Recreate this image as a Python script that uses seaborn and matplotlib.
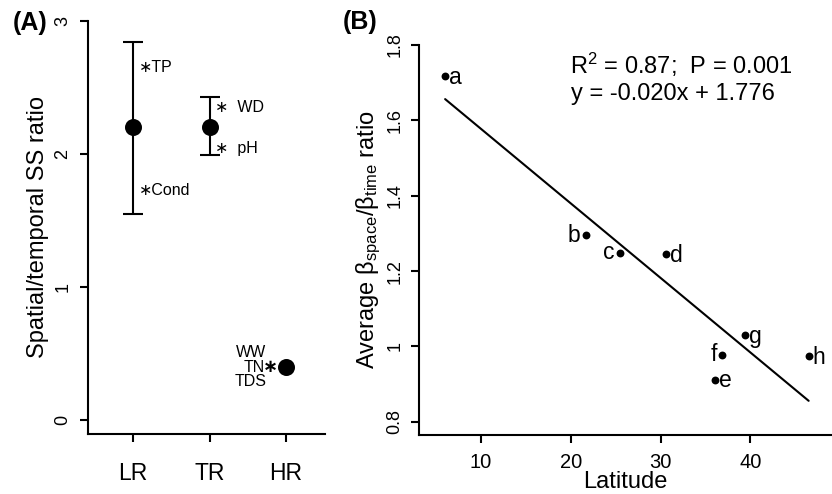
import numpy as np
import pandas as pd
import matplotlib
matplotlib.use("Agg")
import matplotlib.pyplot as plt
import seaborn as sns

# ---- Panel A data ----
regions = ["LR", "TR", "HR"]
ratio_mean = [2.20, 2.20, 0.40]
ratio_low = [1.55, 1.99, np.nan]
ratio_high = [2.84, 2.43, np.nan]
a_yticks = [0, 1, 2, 3]

# ---- Panel B data ----
site_labels = ["a", "b", "c", "d", "e", "f", "g", "h"]
latitude = [6.0, 21.7, 25.5, 30.6, 36.1, 36.9, 39.4, 46.5]
beta_ratio = [1.718, 1.295, 1.249, 1.245, 0.912, 0.978, 1.030, 0.975]
label_side = ["right", "left", "left", "right", "right", "left", "right", "right"]
b_xticks = [10, 20, 30, 40]
b_yticks = [0.8, 1.0, 1.2, 1.4, 1.6, 1.8]
b_yticklabels = ["0.8", "1", "1.2", "1.4", "1.6", "1.8"]

sns.set_theme(style="ticks")
plt.rcParams["font.family"] = ["Liberation Sans", "DejaVu Sans"]
plt.rcParams["mathtext.fontset"] = "custom"
plt.rcParams["mathtext.rm"] = "Liberation Sans"
plt.rcParams["mathtext.it"] = "Liberation Sans:italic"
plt.rcParams["mathtext.bf"] = "Liberation Sans:bold"
plt.rcParams["text.color"] = "black"
plt.rcParams["axes.labelcolor"] = "black"

fig = plt.figure(figsize=(8.32, 4.94), dpi=100)
axA = fig.add_axes([88/832, 1-434/494, (325-88)/832, (434-21)/494])
axB = fig.add_axes([419/832, 1-435/494, (832-419)/832, (435-45)/494])

LW = 1.5
for ax in (axA, axB):
    for s in ("top", "right"):
        ax.spines[s].set_visible(False)
    for s in ("left", "bottom"):
        ax.spines[s].set_linewidth(LW)
        ax.spines[s].set_color("black")
    ax.tick_params(length=6, width=LW, color="black", labelcolor="black")

# ---- Panel A ----
dfA = pd.DataFrame({"region": regions, "mean": ratio_mean,
                    "low": ratio_low, "high": ratio_high})
dfA["pos"] = np.arange(len(regions))
eb = dfA.dropna()
axA.errorbar(eb["pos"], eb["mean"],
             yerr=[eb["mean"] - eb["low"], eb["high"] - eb["mean"]],
             fmt="none", ecolor="black", elinewidth=LW, capsize=7, capthick=LW)
sns.scatterplot(data=dfA, x="pos", y="mean", ax=axA, color="black",
                s=150, linewidth=0, zorder=3)
axA.set_xlim(-0.59, 2.51)
axA.set_ylim(-0.105, 3.0)
axA.set_xticks(dfA["pos"])
axA.set_xticklabels(regions, fontsize=16.5)
axA.set_yticks(a_yticks)
axA.set_yticklabels([str(v) for v in a_yticks], fontsize=13, rotation=90, va="center")
axA.tick_params(axis="x", pad=14)
axA.tick_params(axis="y", pad=6)
axA.set_xlabel("")
axA.set_ylabel("Spatial/temporal SS ratio", fontsize=17, labelpad=4)

fsA = 11.5
axA.text(0.08, 2.647, "∗TP", fontsize=fsA, ha="left", va="center")
axA.text(0.08, 1.729, "∗Cond", fontsize=fsA, ha="left", va="center")
axA.text(1.07, 2.353, "∗  WD", fontsize=fsA, ha="left", va="center")
axA.text(1.07, 2.038, "∗  pH", fontsize=fsA, ha="left", va="center")
axA.text(1.737, 0.511, "WW", fontsize=fsA, ha="right", va="center")
axA.text(1.724, 0.398, "TN", fontsize=fsA, ha="right", va="center")
axA.text(1.80, 0.398, "∗", fontsize=13, fontweight="bold", ha="center", va="center")
axA.text(1.75, 0.286, "TDS", fontsize=fsA, ha="right", va="center")

# ---- Panel B ----
dfB = pd.DataFrame({"site": site_labels, "lat": latitude, "ratio": beta_ratio,
                    "side": label_side})
sns.regplot(data=dfB, x="lat", y="ratio", ax=axB, ci=None, scatter=False,
            truncate=True, line_kws={"color": "black", "linewidth": LW})
sns.scatterplot(data=dfB, x="lat", y="ratio", ax=axB, color="black",
                s=32, linewidth=0, zorder=3)
for _, r in dfB.iterrows():
    if r["side"] == "right":
        axB.annotate(r["site"], (r["lat"], r["ratio"]), xytext=(3, -1),
                     textcoords="offset points", ha="left", va="center", fontsize=16.5)
    else:
        axB.annotate(r["site"], (r["lat"], r["ratio"]), xytext=(-4, 0),
                     textcoords="offset points", ha="right", va="center", fontsize=16.5)
axB.set_xlim(3.09, 49.1)
axB.set_ylim(0.765, 1.8)
axB.set_xticks(b_xticks)
axB.set_xticklabels([str(v) for v in b_xticks], fontsize=14.5)
axB.set_yticks(b_yticks)
axB.set_yticklabels(b_yticklabels, fontsize=13, rotation=90, va="center")
axB.tick_params(axis="x", pad=7)
axB.tick_params(axis="y", pad=5)
axB.set_xlabel("Latitude", fontsize=17, labelpad=-1)
axB.set_ylabel(r"Average β$_{\mathrm{space}}$/β$_{\mathrm{time}}$ ratio",
               fontsize=17, labelpad=3)
axB.text(0.366, 0.926, r"R$^{2}$ = 0.87;  P = 0.001", transform=axB.transAxes,
         fontsize=17, ha="left", va="baseline")
axB.text(0.368, 0.859, "y = -0.020x + 1.776", transform=axB.transAxes,
         fontsize=17, ha="left", va="baseline")

fig.text(13/832, 1-23/494, "(A)", fontsize=18, fontweight="bold", ha="left", va="center")
fig.text(343/832, 1-22/494, "(B)", fontsize=18, fontweight="bold", ha="left", va="center")

fig.savefig("out.png", dpi=100)
